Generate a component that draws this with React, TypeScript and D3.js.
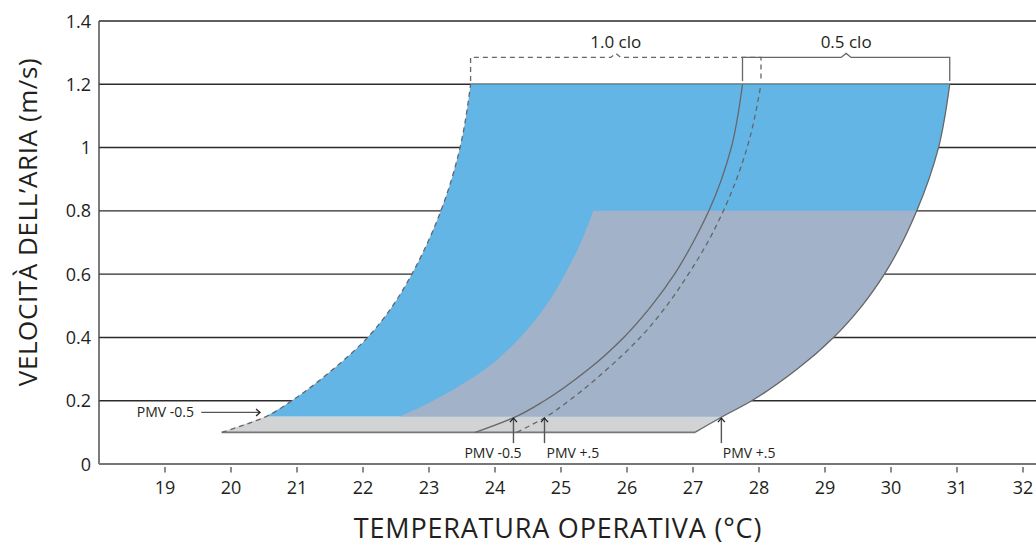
import React from "react";
import * as d3 from "d3";

// ---- data ----
const TEMP_TICKS = [19, 20, 21, 22, 23, 24, 25, 26, 27, 28, 29, 30, 31, 32];
const VEL_TICKS = [0, 0.2, 0.4, 0.6, 0.8, 1, 1.2, 1.4];
const VEL_TICK_LABELS = ["0", "0.2", "0.4", "0.6", "0.8", "1", "1.2", "1.4"];

// air velocity samples for the comfort curves
const VELOCITY = [0.1, 0.15, 0.2, 0.3, 0.4, 0.5, 0.6, 0.7, 0.8, 1.0, 1.2];
// operative temperature (°C) on each curve
const CLO10_PMV_NEG = [19.86, 20.53, 20.92, 21.55, 22.07, 22.45, 22.74, 22.98, 23.18, 23.47, 23.63];
const CLO10_PMV_POS = [24.33, 24.78, 25.12, 25.7, 26.2, 26.6, 26.93, 27.22, 27.46, 27.82, 28.03];
const CLO05_PMV_NEG = [23.7, 24.32, 24.75, 25.42, 25.95, 26.37, 26.72, 27.0, 27.24, 27.58, 27.75];
const CLO05_PMV_POS = [27.03, 27.45, 27.89, 28.58, 29.13, 29.56, 29.9, 30.17, 30.39, 30.72, 30.89];

// grey-blue zone (up to 0.8 m/s)
const ZONE_VELOCITY = [0.15, 0.2, 0.3, 0.4, 0.5, 0.6, 0.7, 0.8];
const ZONE_LEFT = [22.56, 23.06, 23.85, 24.38, 24.77, 25.06, 25.3, 25.49];

// annotations
const BRACKET_LABELS = ["1.0 clo", "0.5 clo"];
const VERT_ARROWS = [
  { label: "PMV -0.5", textT: 23.97, tipT: 24.28 },
  { label: "PMV +.5", textT: 25.18, tipT: 24.75 },
  { label: "PMV +.5", textT: 27.85, tipT: 27.43 },
];
const LEFT_ARROW = { label: "PMV -0.5", textT: 19.44, fromT: 19.55, tipT: 20.44, v: 0.163 };

const W = 1036;
const H = 547;
const BLUE = "#62b5e5";
const GREYBLUE = "#a1b2c9";
const LIGHTGREY = "#d1d3d4";
const CURVE = "#666666";
const TEXT = "#231f20";
const FONT = "'Open Sans', 'Noto Sans', sans-serif";

export default function App() {
  const x = d3.scaleLinear().domain([18, 32]).range([99, 1023]);
  const y = d3.scaleLinear().domain([0, 1.4]).range([464, 21]);

  const pts = (temps: number[], vels: number[]) => vels.map((v, i) => [temps[i], v] as [number, number]);

  const line = d3
    .line<[number, number]>()
    .x((d) => x(d[0]))
    .y((d) => y(d[1]))
    .curve(d3.curveMonotoneY);

  type Row = { v: number; a: number; b: number };
  const area = d3
    .area<Row>()
    .y((d) => y(d.v))
    .x0((d) => x(d.a))
    .x1((d) => x(d.b))
    .curve(d3.curveMonotoneY);

  const rightAt = (v: number) => CLO05_PMV_POS[VELOCITY.indexOf(v)];
  const leftAt = (v: number) => CLO10_PMV_NEG[VELOCITY.indexOf(v)];

  const blueRows: Row[] = VELOCITY.filter((v) => v >= 0.15).map((v) => ({ v, a: leftAt(v), b: rightAt(v) }));
  const greyRows: Row[] = ZONE_VELOCITY.map((v, i) => ({ v, a: ZONE_LEFT[i], b: rightAt(v) }));
  const lightRows: Row[] = VELOCITY.filter((v) => v <= 0.15).map((v) => ({ v, a: leftAt(v), b: rightAt(v) }));

  const top = VELOCITY.length - 1;
  const brackets = [
    { label: BRACKET_LABELS[0], l: CLO10_PMV_NEG[top], r: CLO10_PMV_POS[top], dashed: true },
    { label: BRACKET_LABELS[1], l: CLO05_PMV_NEG[top], r: CLO05_PMV_POS[top], dashed: false },
  ];
  const yBr = y(1.285);
  const yBrBottom = y(1.21);

  const arrowTipY = y(0.145);
  const arrowTailY = y(0.066);

  return (
    <svg width={W} height={H} style={{ position: "absolute", left: 0, top: 0 }} fontFamily={FONT}>
      <rect width={W} height={H} fill="#fff" />
      {/* gridlines */}
      {VEL_TICKS.filter((v) => v > 0).map((v) => (
        <line key={v} x1={x(18)} x2={W} y1={y(v)} y2={y(v)} stroke="#2b2b2b" strokeWidth={1.4} />
      ))}
      {/* zones */}
      <path d={area(lightRows) || ""} fill={LIGHTGREY} />
      <path d={area(blueRows) || ""} fill={BLUE} />
      <path d={area(greyRows) || ""} fill={GREYBLUE} />
      {/* bottom edge */}
      <line
        x1={x(CLO10_PMV_NEG[0])}
        x2={x(CLO05_PMV_POS[0])}
        y1={y(VELOCITY[0])}
        y2={y(VELOCITY[0])}
        stroke="#777"
        strokeWidth={1.6}
      />
      {/* curves */}
      <path d={line(pts(CLO10_PMV_NEG, VELOCITY)) || ""} fill="none" stroke={CURVE} strokeWidth={1.3} strokeDasharray="5,4" />
      <path d={line(pts(CLO10_PMV_POS, VELOCITY)) || ""} fill="none" stroke={CURVE} strokeWidth={1.3} strokeDasharray="5,4" />
      <path d={line(pts(CLO05_PMV_NEG, VELOCITY)) || ""} fill="none" stroke={CURVE} strokeWidth={1.3} />
      <path d={line(pts(CLO05_PMV_POS, VELOCITY)) || ""} fill="none" stroke={CURVE} strokeWidth={1.3} />

      {/* axes */}
      <line x1={x(18)} x2={x(18)} y1={y(1.4)} y2={y(0)} stroke="#444" strokeWidth={1.4} />
      <line x1={x(18)} x2={W} y1={y(0)} y2={y(0)} stroke="#777" strokeWidth={2} />
      {TEMP_TICKS.map((t) => (
        <g key={t}>
          <line x1={x(t)} x2={x(t)} y1={y(0) + 3} y2={y(0) + 8.5} stroke="#666" strokeWidth={1.5} />
          <text x={x(t)} y={494} textAnchor="middle" fontSize={18} fill={TEXT}>
            {t}
          </text>
        </g>
      ))}
      {VEL_TICKS.map((v, i) => (
        <text key={v} x={91} y={y(v) + 6.5} textAnchor="end" fontSize={18} fill={TEXT}>
          {VEL_TICK_LABELS[i]}
        </text>
      ))}

      {/* axis titles */}
      <text x={558} y={538} textAnchor="middle" fontSize={27} letterSpacing={0.8} fill={TEXT}>
        TEMPERATURA OPERATIVA (°C)
      </text>
      <text transform={`translate(37,222) rotate(-90)`} textAnchor="middle" fontSize={26} letterSpacing={0.6} fill={TEXT}>
        VELOCITÀ DELL’ARIA (m/s)
      </text>

      {/* brackets */}
      {brackets.map((b) => {
        const xl = x(b.l);
        const xr = x(b.r);
        const xc = (xl + xr) / 2;
        const d = `M${xl},${yBrBottom} L${xl},${yBr} L${xc - 5},${yBr} L${xc},${yBr - 4} L${xc + 5},${yBr} L${xr},${yBr} L${xr},${yBrBottom}`;
        return (
          <g key={b.label}>
            <path d={d} fill="none" stroke={CURVE} strokeWidth={1.3} strokeDasharray={b.dashed ? "5,4" : undefined} />
            <text x={xc} y={yBr - 9} textAnchor="middle" fontSize={17} fill={TEXT}>
              {b.label}
            </text>
          </g>
        );
      })}

      {/* PMV annotations */}
      {VERT_ARROWS.map((a, i) => {
        const ax = x(a.tipT);
        return (
          <g key={i}>
            <line x1={ax} x2={ax} y1={arrowTailY} y2={arrowTipY} stroke="#555" strokeWidth={1.4} />
            <path d={`M${ax - 3.5},${arrowTipY + 4} L${ax},${arrowTipY} L${ax + 3.5},${arrowTipY + 4}`} fill="none" stroke="#222" strokeWidth={1.3} />
            <text x={x(a.textT)} y={457.5} textAnchor="middle" fontSize={14} fill={TEXT}>
              {a.label}
            </text>
          </g>
        );
      })}
      <g>
        <line x1={x(LEFT_ARROW.fromT)} x2={x(LEFT_ARROW.tipT)} y1={y(LEFT_ARROW.v)} y2={y(LEFT_ARROW.v)} stroke="#555" strokeWidth={1.4} />
        <path
          d={`M${x(LEFT_ARROW.tipT) - 4},${y(LEFT_ARROW.v) - 3.5} L${x(LEFT_ARROW.tipT)},${y(LEFT_ARROW.v)} L${x(LEFT_ARROW.tipT) - 4},${y(LEFT_ARROW.v) + 3.5}`}
          fill="none"
          stroke="#222"
          strokeWidth={1.3}
        />
        <text x={x(LEFT_ARROW.textT)} y={y(LEFT_ARROW.v) + 5} textAnchor="end" fontSize={14} fill={TEXT}>
          {LEFT_ARROW.label}
        </text>
      </g>
    </svg>
  );
}
